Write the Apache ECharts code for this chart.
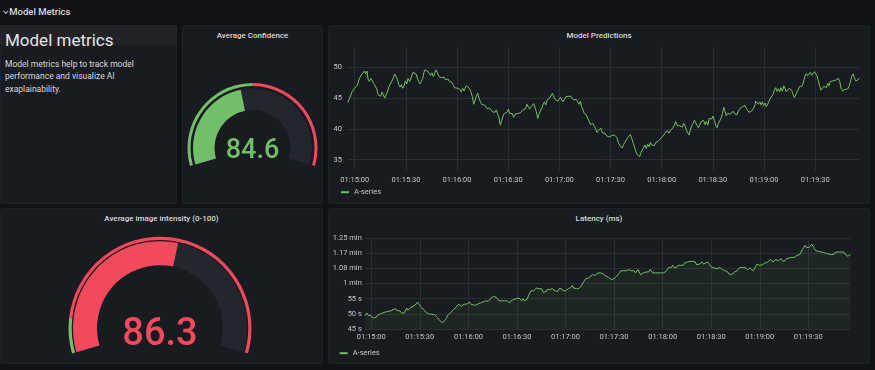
<!DOCTYPE html>
<html><head><meta charset="utf-8">
<script src="https://cdn.jsdelivr.net/npm/echarts@6/dist/echarts.min.js"></script>
<style>
html,body{margin:0;padding:0;background:#111217;width:875px;height:370px;overflow:hidden;font-family:Roboto,"Noto Sans",sans-serif;color:#d8d9da;}
.panel{position:absolute;background:#181b1f;border:1px solid #1f2126;box-sizing:border-box;border-radius:2px;}
.ptitle{position:absolute;text-align:center;font-size:8px;font-weight:500;color:#d8d9da;white-space:nowrap;}
#chart{position:absolute;left:0;top:0;width:875px;height:370px;}
</style></head><body>
<div style="position:absolute;left:3.5px;top:9px;width:2.6px;height:2.6px;border-right:1px solid #c7c9d1;border-bottom:1px solid #c7c9d1;transform:rotate(45deg);"></div>
<div style="position:absolute;left:9.3px;top:5px;height:14px;line-height:14px;font-size:9.5px;font-weight:500;color:#d8d9da;">Model Metrics</div>

<div class="panel" style="left:0;top:25px;width:177px;height:178.5px;"></div>
<div style="position:absolute;left:0;top:25px;width:177px;height:20px;background:#212328;"></div>
<div style="position:absolute;left:5px;top:29.5px;height:20px;line-height:20px;font-size:17px;font-weight:400;color:#e4e5e7;white-space:nowrap;">Model metrics</div>
<div style="position:absolute;left:5px;top:57.7px;line-height:12.65px;font-size:8.5px;color:#d8d9da;white-space:nowrap;">Model metrics help to track model<br>performance and visualize AI<br>exaplainability.</div>

<div class="panel" style="left:182px;top:25px;width:141px;height:178.5px;"></div>
<div class="ptitle" style="left:182px;width:141px;top:25px;height:21.5px;line-height:21.5px;">Average Confidence</div>

<div class="panel" style="left:328px;top:25px;width:542px;height:178.5px;"></div>
<div class="ptitle" style="left:328px;width:542px;top:25px;height:21.5px;line-height:21.5px;">Model Predictions</div>

<div class="panel" style="left:0;top:208px;width:323px;height:156px;"></div>
<div class="ptitle" style="left:0;width:323px;top:208px;height:22.6px;line-height:22.6px;">Average image intensity (0-100)</div>

<div class="panel" style="left:328px;top:208px;width:542px;height:156px;"></div>
<div class="ptitle" style="left:328px;width:542px;top:208px;height:22px;line-height:22px;">Latency (ms)</div>

<div id="chart"></div>
<script>
// ---------- data ----------
const rangeStart = '01:14:56';
const xTickLabels = ['01:15:00','01:15:30','01:16:00','01:16:30','01:17:00','01:17:30','01:18:00','01:18:30','01:19:00','01:19:30'];
const predYTicks = [35, 40, 45, 50];
const latYTicks = [45, 50, 55, 60, 65, 70, 75];
const latYLabels = ['45 s','50 s','55 s','1 min','1.08 min','1.17 min','1.25 min'];

const confValue = 84.6, confMax = 189.7, confThreshold = 94.85;
const intensityValue = 86.3, intensityMax = 155, intensityThreshold = 16.4;

// seconds after rangeStart
const predSec = [0,1,2.4,3.6,4.4,5.5,6.9,7.9,9,9.8,10.4,11.2,11.8,12.6,13.4,14.3,15.1,16.1,16.9,17.7,18.4,19.2,20,20.8,21.6,22.3,23.1,24.3,25.5,26.5,27.5,28.2,29,29.8,30.6,31.4,32.1,32.9,33.7,34.5,35.3,36.2,37.2,38.2,39.2,40,40.7,41.5,42.3,43.1,43.9,44.6,45.2,46.2,47,47.8,48.5,49.3,50.1,50.9,51.7,52.4,53.2,54,54.8,55.6,56.4,57.1,57.9,58.7,59.5,60.3,61,61.8,62.6,63.4,64.2,65,65.7,66.5,67.3,68.1,
68.7,69.6,70.6,71.4,72.2,73,73.8,74.5,75.3,76.1,76.9,77.7,78.4,79.2,80,80.8,81.6,82.4,83.1,83.9,84.7,85.5,86.3,87,87.8,88.6,89.4,90.2,91,91.7,92.5,93.3,94.1,94.9,95.6,96.4,97.2,98,98.8,99.6,100.3,101.1,101.9,102.7,103.5,104.2,105,105.8,106.6,107.4,108.2,108.9,109.7,110.5,111.3,112.1,112.8,113.6,114.4,115.2,116,116.8,117.5,118.3,119.1,119.9,120.7,121.4,122.2,123,123.8,124.6,125.4,126.1,126.9,127.7,128.5,129.3,130,130.8,131.6,132.4,133.2,133.9,134.7,135.5,136.3,137.1,137.9,138.6,
139.8,140.6,141.4,142.2,143,143.7,144.5,145.3,146.1,146.9,147.6,148.4,149.2,150,150.8,151.6,152.3,153.1,153.9,154.7,155.5,156.3,157,157.8,158.6,159.4,160.2,160.9,161.7,162.5,163.3,164.1,164.9,165.6,166.4,167.2,168,168.8,169.5,170.3,171.1,171.9,172.7,173.5,174.2,175,175.8,176.6,177.4,178.1,178.9,179.7,180.5,181.3,182,182.8,183.6,184.4,185.2,186,186.7,187.5,188.3,189.1,189.9,190.7,191.4,192.2,193,193.8,194.6,195.3,196.1,196.9,197.7,198.5,199.2,200,200.8,201.6,202.4,203.2,203.9,204.7,205.5,206.3,207.1,207.9,208.6,
209.4,210.2,211,211.8,212.5,213.3,214.1,214.9,215.7,216.5,217.2,218,218.8,219.6,220.4,221.2,221.9,222.7,223.5,224.3,225.1,225.8,226.6,227.4,228.2,229,229.8,230.5,231.3,232.1,232.9,233.7,234.4,235.2,236,236.8,237.6,238.4,239.1,239.9,240.7,241.5,242.3,243,243.8,244.6,245.4,246.2,247,247.7,248.5,249.3,250.1,250.9,251.6,252.4,253.2,254,254.8,255.6,256.3,257.1,257.9,258.7,259.5,260.2,261,261.8,262.6,263.4,264.2,264.9,265.7,266.5,267.3,268.1,268.8,269.6,270.4,271.2,272,272.8,273.5,274.3,275.1,275.9,276.7,277.4,278.2,279,279.8,280.6,281.4,282.1,282.9,283.7,284.5,285.3,286,286.8,287.6,288.4,289.2,290,290.7,291.5,292.3,293.1,293.9,294.6,295.4,296.2,297,297.8,298.6,299.3,300];
const predVal = [44.3,45.0,46.0,46.5,46.2,47.1,48.3,48.8,49.0,49.4,48.9,49.4,48.1,47.7,48.2,47.8,47.4,47.1,46.5,45.6,45.8,45.3,46.0,45.5,45.0,44.9,46.0,47.0,47.6,48.2,48.9,49.2,48.1,47.2,46.8,47.2,46.6,47.0,47.8,47.3,48.2,47.7,48.4,49.2,49.5,48.9,48.3,47.7,47.3,47.5,48.2,49.2,49.6,49.5,49.3,49.0,48.7,49.1,48.5,48.7,49.6,49.2,48.6,48.9,48.3,48.1,48.4,48.0,47.9,48.1,47.7,47.9,47.5,47.1,46.7,47.0,46.6,46.9,46.4,46.0,46.6,46.2,
46.6,47.0,47.1,46.5,46.0,45.2,44.0,44.5,45.4,45.8,45.0,44.4,44.0,44.1,43.9,43.6,43.3,43.1,43.4,43.2,42.8,42.9,42.7,43.1,42.4,41.8,40.6,41.4,42.1,42.5,42.3,42.7,43.2,42.5,42.3,42.5,41.9,42.4,42.1,42.5,42.8,42.6,42.9,43.1,42.9,43.3,44.0,43.6,43.2,43.6,43.9,44.1,43.5,42.8,41.7,42.4,42.9,43.3,43.9,44.4,43.9,44.7,44.5,45.0,45.2,45.8,45.6,44.8,45.1,44.5,44.4,45.1,45.2,44.4,44.8,45.2,45.2,45.3,45.1,45.3,45.1,44.7,44.4,44.8,44.4,44.0,44.5,43.6,43.1,42.5,
42.3,41.7,41.3,40.7,40.5,40.9,40.4,40.0,39.4,39.8,39.5,40.1,39.4,39.1,39.3,38.9,39.1,38.7,38.5,38.9,38.7,39.0,39.1,38.6,37.8,37.3,37.6,36.9,37.5,37.8,38.2,38.6,38.9,39.1,38.5,37.8,37.1,36.4,35.9,36.2,35.5,36.2,36.6,36.9,37.4,36.8,37.5,37.1,37.8,37.4,37.6,37.3,37.8,37.5,38.0,37.8,38.5,38.2,39.0,39.4,39.1,39.7,39.3,39.8,39.5,40.2,40.6,41.2,40.6,40.9,40.5,40.7,40.3,40.9,40.5,39.8,40.1,39.0,39.8,40.5,40.9,41.4,41.2,40.6,40.2,40.6,41.2,40.9,41.4,
40.7,41.2,40.6,41.7,42.0,41.6,42.1,41.4,40.6,40.2,40.9,41.2,41.7,42.5,43.5,42.8,42.1,42.5,42.8,42.4,42.7,42.9,42.5,42.7,42.3,42.9,43.3,43.2,43.6,43.4,43.8,43.3,43.1,42.7,42.5,42.9,43.2,43.6,44.5,44.7,44.0,44.4,43.9,44.4,43.8,44.2,43.6,43.9,44.5,45.0,45.1,45.6,46.3,46.7,46.1,46.5,46.0,46.7,46.1,47.0,46.6,46.0,46.3,46.6,46.9,46.3,45.6,45.1,45.4,46.0,46.5,46.9,47.2,47.0,47.8,48.6,49.0,48.6,48.9,49.2,48.7,49.0,49.3,49.4,48.6,47.8,46.9,46.3,46.0,46.9,47.2,46.7,47.4,47.0,47.7,47.4,47.8,47.6,47.9,47.7,48.2,47.7,46.6,46.2,46.5,46.4,46.7,46.5,46.9,47.6,48.5,48.9,48.3,47.8,47.6,48.0,48.3];

// latency, in seconds, at seconds after rangeStart
const latSec = [0,1.2,2,2.8,3.6,4.4,5.3,6.1,6.9,7.7,8.6,9.4,10.2,11,11.9,12.7,13.5,14.3,15.2,16,16.8,17.6,18.4,19.3,20.1,20.9,21.7,22.6,23.4,24.2,25,25.9,26.7,27.5,28.3,29.2,30,30.8,31.6,32.5,33.3,34.1,34.9,35.7,36.6,37.4,38.2,39,39.9,40.7,41.5,42.3,43.2,44,44.8,45.6,46.5,47.3,48.1,48.9,49.8,50.6,51.4,52.2,53,53.9,54.7,55.5,56.3,57.2,58,58.8,59.6,60.5,61.3,62.1,62.9,63.8,64.6,65.4,66.2,67.9,
68.9,69.7,70.6,71.4,72.2,73,73.9,74.7,75.5,76.3,77.2,78,78.8,79.6,80.4,81.3,82.1,82.9,83.7,84.6,85.4,86.2,87,87.9,88.7,89.5,90.3,91.2,92,92.8,93.6,94.4,95.3,96.1,96.9,97.7,98.6,99.4,100.2,101,101.9,102.7,103.5,104.3,105.2,106,106.8,107.6,108.5,109.3,110.1,110.9,111.8,112.6,113.4,114.2,115.1,115.9,116.7,117.5,118.3,119.2,120,120.8,121.6,122.5,123.3,124.1,124.9,125.8,126.6,127.4,128.2,129.1,129.9,130.7,131.5,132.3,133.2,134,134.8,135.6,136.5,137.3,138.1,138.9,
140.8,141.6,142.4,143.3,144.1,144.9,145.7,146.6,147.4,148.2,149,149.8,150.7,151.5,152.3,153.1,154,154.8,155.6,156.4,157.3,158.1,158.9,159.7,160.6,161.4,162.2,163,163.9,164.7,165.5,166.3,167.2,168,168.8,169.6,170.4,171.3,172.1,172.9,173.7,174.6,175.4,176.2,177,177.9,178.7,179.5,180.3,181.2,182,182.8,183.6,184.5,185.3,186.1,186.9,187.7,188.6,189.4,190.2,191,191.9,192.7,193.5,194.3,195.2,196,196.8,197.6,198.5,199.3,200.1,200.9,201.8,202.6,203.4,204.2,205,205.9,206.7,207.5,208.3,209.2,210,
211.8,212.7,213.5,214.3,215.1,216,216.8,217.6,218.4,219.3,220.1,220.9,221.7,222.6,223.4,224.2,225,225.9,226.7,227.5,228.3,229.1,230,230.8,231.6,232.4,233.3,234.1,234.9,235.7,236.6,237.4,238.2,239,239.9,240.7,241.5,242.3,243.2,244,244.8,245.6,246.4,247.3,248.1,248.9,249.7,250.6,251.4,252.2,253,253.9,254.7,255.5,256.3,257.2,258,258.8,259.6,260.5,261.3,262.1,262.9,263.7,264.6,265.4,266.2,267,267.9,268.7,269.5,270.3,271.2,272,272.8,273.6,274.5,275.3,276.1,276.9,277.8,278.6,279.4,280.2,281.1,281.9,282.7,283.5,284.4,285.2,286,286.8,287.6,288.5,289.3,290.1,290.9,291.8,292.6,293.4,294.2,295.1,295.9,296.7,297.5,298.4,299.2,300];
const latVal = [49.4,50.3,49.5,49.9,49.5,49.7,48.6,48.1,48.8,49.5,49.2,49.9,49.5,50.3,49.9,50.6,50.3,50.8,50.6,51.0,50.8,51.4,51.0,51.7,51.0,50.6,51.0,50.3,50.8,50.2,50.6,51.9,51.2,51.7,52.1,51.7,52.5,52.8,53.2,53.9,53.6,52.8,52.1,51.9,51.4,50.8,50.3,50.6,49.9,50.3,49.9,50.3,49.7,49.2,48.8,48.4,47.7,47.3,47.0,47.5,48.1,48.8,49.7,49.5,50.3,50.8,51.4,51.9,52.1,52.5,53.2,52.8,52.5,53.0,53.2,52.8,53.2,53.6,53.9,53.2,53.0,52.8,
52.5,53.2,52.8,53.6,53.2,53.9,53.6,54.3,53.9,54.1,54.7,55.2,55.4,55.8,55.2,55.4,55.0,54.3,53.9,54.3,53.9,54.3,53.9,54.3,53.9,53.6,54.3,53.9,54.7,54.3,55.0,54.7,55.2,54.7,54.3,55.0,54.3,53.9,54.7,55.8,56.9,57.6,58.0,57.6,58.0,58.5,58.0,58.3,58.0,58.3,57.2,57.6,57.2,58.0,57.4,58.0,57.6,58.3,58.0,57.6,58.0,57.4,58.3,58.7,58.3,57.6,58.0,57.6,58.0,58.3,58.0,58.7,59.4,58.5,58.0,58.3,58.5,58.3,58.7,59.4,60.2,60.9,61.6,62.0,61.8,62.4,
62.9,63.1,62.7,63.1,63.5,63.1,63.5,62.9,63.1,62.7,62.4,61.8,62.0,61.6,61.3,61.8,61.6,62.0,62.4,62.9,63.5,64.2,64.6,64.2,64.0,64.2,64.0,64.6,64.0,64.2,63.8,64.2,63.5,64.0,64.6,64.0,62.9,63.1,63.5,64.0,63.8,64.2,63.8,64.6,64.0,63.5,62.9,63.5,63.1,63.5,63.1,63.5,63.1,63.5,63.8,64.0,64.6,65.3,65.7,65.3,66.0,65.3,65.7,65.3,66.0,66.4,66.0,66.4,66.0,66.8,67.3,67.1,67.5,67.3,66.8,67.3,67.5,67.1,66.2,65.7,66.4,66.8,67.1,66.4,66.8,
67.1,66.4,66.0,65.3,65.7,65.1,65.3,64.9,65.1,65.3,64.9,64.6,64.9,64.2,64.6,63.8,63.1,63.5,62.9,63.5,63.8,64.0,64.2,64.6,65.3,65.1,65.3,64.9,65.3,65.1,64.6,64.9,65.1,64.6,64.2,64.9,65.7,66.4,66.2,66.0,65.7,66.2,66.0,66.8,66.4,67.1,67.5,67.9,67.5,67.1,67.5,67.9,67.3,67.5,67.9,68.2,67.8,67.1,67.5,68.2,68.6,68.4,69.0,68.6,69.1,68.6,69.1,69.3,69.0,69.5,70.4,71.2,71.9,72.6,71.9,72.3,71.9,72.3,73.0,72.3,71.5,70.8,71.2,70.6,70.8,70.4,70.6,70.2,70.4,69.9,70.2,69.7,69.3,69.5,70.1,69.7,70.4,70.6,70.4,70.8,70.4,70.1,70.4,69.7,69.5,69.0,68.6,69.5];

// ---------- chart ----------
function toSec(s){const p=s.split(':').map(Number);return p[0]*3600+p[1]*60+p[2];}
const xTickSec = xTickLabels.map(l => toSec(l) - toSec(rangeStart));
const predData = predSec.map((s,i)=>[s,predVal[i]]);
const latData = latSec.map((s,i)=>[s,latVal[i]]);

const FONT = 'Roboto, "Noto Sans", sans-serif';
const GREEN = '#73BF69', RED = '#F2495C', TRACK = '#23262c';
const axisText = '#c4c6cd', gridColor = '#2a2d32';
const fmtX = v => { const i = xTickSec.indexOf(Math.round(v)); return i >= 0 ? xTickLabels[i] : ''; };

function xAxisOf(gi, margin){
  return {gridIndex:gi,type:'value',min:0,max:300,
    axisLine:{show:false},
    axisTick:{show:false,customValues:xTickSec},
    axisLabel:{customValues:xTickSec,formatter:fmtX,color:axisText,fontSize:7.5,fontFamily:FONT,margin:margin},
    splitLine:{show:true,lineStyle:{color:gridColor,width:1}}};
}
function ringGauge(center, radius, width, max, threshold){
  return {type:'gauge',silent:true,center:center,radius:radius,startAngle:196,endAngle:-16,min:0,max:max,
    axisLine:{lineStyle:{width:width,color:[[threshold/max,GREEN],[1,RED]]}},
    progress:{show:false},pointer:{show:false},axisTick:{show:false},splitLine:{show:false},axisLabel:{show:false},
    title:{show:false},detail:{show:false},data:[{value:0}]};
}
function barGauge(center, radius, width, max, value, color, fontSize, dy){
  return {type:'gauge',silent:true,center:center,radius:radius,startAngle:196,endAngle:-16,min:0,max:max,
    axisLine:{lineStyle:{width:width,color:[[1,TRACK]]}},
    progress:{show:true,width:width,itemStyle:{color:color}},
    pointer:{show:false},axisTick:{show:false},splitLine:{show:false},axisLabel:{show:false},title:{show:false},
    detail:{show:true,valueAnimation:false,offsetCenter:[0,dy],fontSize:fontSize,fontWeight:500,fontFamily:FONT,color:color,
      formatter:v=>v.toFixed(1)},
    data:[{value:value}]};
}

const chart = echarts.init(document.getElementById('chart'));
chart.setOption({
  animation:false,
  backgroundColor:'transparent',
  textStyle:{fontFamily:FONT},
  legend:[
    {data:['A-series'],left:341,top:188.2,padding:0,icon:'rect',itemWidth:8,itemHeight:2,selectedMode:false,
      textStyle:{color:axisText,fontSize:7.5,fontFamily:FONT}},
    {data:['A-series'],left:339.7,top:349.2,padding:0,icon:'rect',itemWidth:8,itemHeight:2,selectedMode:false,
      textStyle:{color:axisText,fontSize:7.5,fontFamily:FONT}}
  ],
  grid:[
    {left:347.9,right:875-859.5,top:47,height:123.2},
    {left:364.8,right:875-850.4,top:238,height:91}
  ],
  xAxis:[xAxisOf(0,6),xAxisOf(1,4.5)],
  yAxis:[
    {gridIndex:0,type:'value',min:33.3,max:53.3,
      axisLine:{show:false},axisTick:{show:false,customValues:predYTicks},
      axisLabel:{customValues:predYTicks,color:axisText,fontSize:7.5,fontFamily:FONT,margin:6},
      splitLine:{show:true,lineStyle:{color:gridColor,width:1}}},
    {gridIndex:1,type:'value',min:45,max:75,
      axisLine:{show:false},axisTick:{show:false,customValues:latYTicks},
      axisLabel:{customValues:latYTicks,color:axisText,fontSize:7.5,fontFamily:FONT,margin:3,
        formatter:v=>{const i=latYTicks.indexOf(Math.round(v));return i>=0?latYLabels[i]:'';}},
      splitLine:{show:true,lineStyle:{color:gridColor,width:1}}}
  ],
  series:[
    {name:'A-series',type:'line',xAxisIndex:0,yAxisIndex:0,data:predData,showSymbol:false,symbol:'none',
      lineStyle:{color:GREEN,width:1},itemStyle:{color:GREEN}},
    {name:'A-series',type:'line',xAxisIndex:1,yAxisIndex:1,data:latData,showSymbol:false,symbol:'none',
      lineStyle:{color:GREEN,width:1},itemStyle:{color:GREEN},
      areaStyle:{color:'rgba(115,191,105,0.1)',origin:'start'}},
    ringGauge([252.5,148],65,3,confMax,confThreshold),
    barGauge([252.5,148],59.5,21.5,confMax,confValue,GREEN,27,3.7),
    ringGauge([160,328.2],91.5,3.2,intensityMax,intensityThreshold),
    barGauge([160,328.2],87,24,intensityMax,intensityValue,RED,38,6.8)
  ]
});
</script>
</body></html>
